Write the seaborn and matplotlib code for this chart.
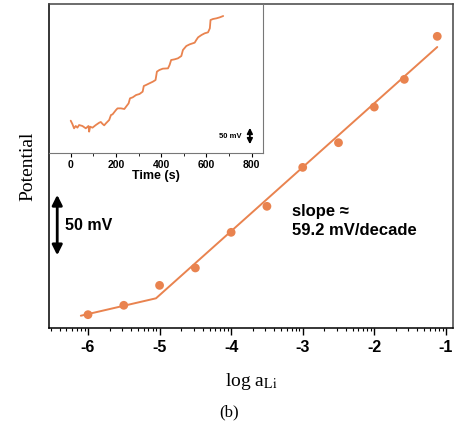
import numpy as np
import pandas as pd
import matplotlib
matplotlib.use("Agg")
import matplotlib.pyplot as plt
from matplotlib.ticker import FixedLocator
import seaborn as sns

# ---- data ----
log_a = [-6.0, -5.5, -5.0, -4.5, -4.0, -3.5, -3.0, -2.5, -2.0, -1.58, -1.12]
potential = [10.1, 17.2, 32.3, 45.5, 72.5, 92.2, 121.7, 140.4, 167.4, 188.4, 221.0]
fit_x = [-6.1, -5.05, -1.12]
fit_y = [9.3, 22.5, 212.9]

time_s = [0, 7.4, 14.8, 22.2, 29.6, 37, 51.8, 66.6, 78.5, 81.5, 85.9, 96.3, 111, 126, 133,
          141, 148, 155.5, 170, 178, 185, 200, 207, 222, 237, 247, 256, 262, 274, 289, 304,
          318, 323, 333, 348, 363, 375, 381, 392, 407, 430, 437, 444, 459, 474, 489, 496,
          511, 526, 548, 555, 563, 578, 592, 607, 615, 618, 629, 644, 659, 674]
trace_mv = [73.5, 65.9, 56.1, 61.4, 57.6, 63.6, 61.4, 56.1, 61.4, 48.5, 59.8, 57.6, 63.6,
            68.9, 70.5, 65.9, 62.9, 67.4, 75.0, 86.4, 87.9, 97.7, 101.5, 101.5, 100.0, 106.8,
            112.9, 124.3, 126.5, 131.8, 134.1, 139.4, 152.3, 154.6, 158.4, 162.1, 165.9,
            184.9, 188.7, 191.7, 192.4, 200.0, 211.4, 212.9, 215.2, 220.5, 234.1, 243.2,
            247.0, 250.8, 256.8, 262.9, 268.2, 272.0, 274.3, 283.4, 302.3, 304.6, 306.1,
            308.4, 311.4]

main_ticks = [-6, -5, -4, -3, -2, -1]
main_tick_labels = ["-6", "-5", "-4", "-3", "-2", "-1"]
inset_ticks = [0, 200, 400, 600, 800]

orange = "#E9834F"

sns.set_style("ticks")
plt.rcParams["font.family"] = ["Liberation Sans", "DejaVu Sans"]
plt.rcParams["mathtext.fontset"] = "stix"
plt.rcParams["text.color"] = "black"
plt.rcParams["axes.labelcolor"] = "black"
plt.rcParams["xtick.color"] = "black"
plt.rcParams["xtick.labelcolor"] = "black"

fig = plt.figure(figsize=(4.59, 4.32), dpi=100)
ax = fig.add_axes([49/459, 1-328/432, (453-49)/459, (328-4)/432])

df = pd.DataFrame({"x": log_a, "y": potential})
dfit = pd.DataFrame({"x": fit_x, "y": fit_y})
sns.lineplot(data=dfit, x="x", y="y", ax=ax, color=orange, lw=1.4, sort=False)
sns.scatterplot(data=df, x="x", y="y", ax=ax, color=orange, s=40, edgecolor="none", zorder=3)

ax.set_xlim(-6.545, -0.90)
ax.set_ylim(0, 245.5)
ax.set_yticks([])
ax.set_xticks(main_ticks)
ax.set_xticklabels(main_tick_labels, fontsize=11.5, fontweight="bold")
minor = []
for d in range(-7, -1):
    for k in range(2, 10):
        v = d + np.log10(k)
        if -6.545 < v < -0.9:
            minor.append(v)
ax.xaxis.set_minor_locator(FixedLocator(minor))
ax.tick_params(axis="x", which="major", length=5, width=1, direction="out", pad=4)
ax.tick_params(axis="x", which="minor", length=2.5, width=0.8, direction="out")
for s in ax.spines.values():
    s.set_linewidth(1.1)
    s.set_color("black")
ax.spines["top"].set_color("#444444")
ax.spines["right"].set_color("#444444")

ax.set_xlabel(r"log a$_{\mathrm{Li}}$", fontsize=14, family=["Liberation Serif"], labelpad=11)
ax.set_ylabel("Potential", fontsize=14, family=["Liberation Serif"], labelpad=9)

# scale bar 50 mV
ax.annotate("", xy=(-6.43, 53), xytext=(-6.43, 103),
            arrowprops=dict(arrowstyle="<|-|>", color="black", lw=2, mutation_scale=15))
ax.text(-6.32, 78, "50 mV", fontsize=11.5, fontweight="bold", va="center", ha="left")
ax.text(-3.15, 81, "slope \u2248\n59.2 mV/decade", fontsize=12, fontweight="bold",
        va="center", ha="left", linespacing=1.35)

fig.text(229/459, 1-412/432, "(b)", fontsize=12, family=["Liberation Serif"],
         ha="center", va="center")

# ---- inset ----
ins = fig.add_axes([49/459, 1-153/432, (263-49)/459, (153-4)/432])
ins.patch.set_alpha(0)
dtr = pd.DataFrame({"t": time_s, "v": trace_mv})
sns.lineplot(data=dtr, x="t", y="v", ax=ins, color=orange, lw=1.3, sort=False)
ins.set_xlim(-96, 850)
ins.set_ylim(0, 338.7)
ins.set_yticks([])
ins.set_xticks(inset_ticks)
ins.set_xticklabels([str(t) for t in inset_ticks], fontsize=7.5, fontweight="bold")
ins.xaxis.set_minor_locator(FixedLocator([100, 300, 500, 700]))
ins.tick_params(axis="x", which="major", length=3, width=0.8, pad=2)
ins.tick_params(axis="x", which="minor", length=2, width=0.6)
ins.spines["top"].set_visible(False)
ins.spines["left"].set_visible(False)
ins.spines["bottom"].set_color("#777777")
ins.spines["right"].set_color("#777777")
ins.spines["bottom"].set_linewidth(0.8)
ins.spines["right"].set_linewidth(0.8)
ins.set_xlabel("Time (s)", fontsize=9, fontweight="bold", labelpad=0)
ins.set_ylabel("")
ins.annotate("", xy=(792, 13.6), xytext=(792, 63.6),
             arrowprops=dict(arrowstyle="<|-|>", color="black", lw=1.3, mutation_scale=8))
ins.text(757, 38, "50 mV", fontsize=5.5, fontweight="bold", ha="right", va="center")

fig.savefig("out.png", dpi=100)
